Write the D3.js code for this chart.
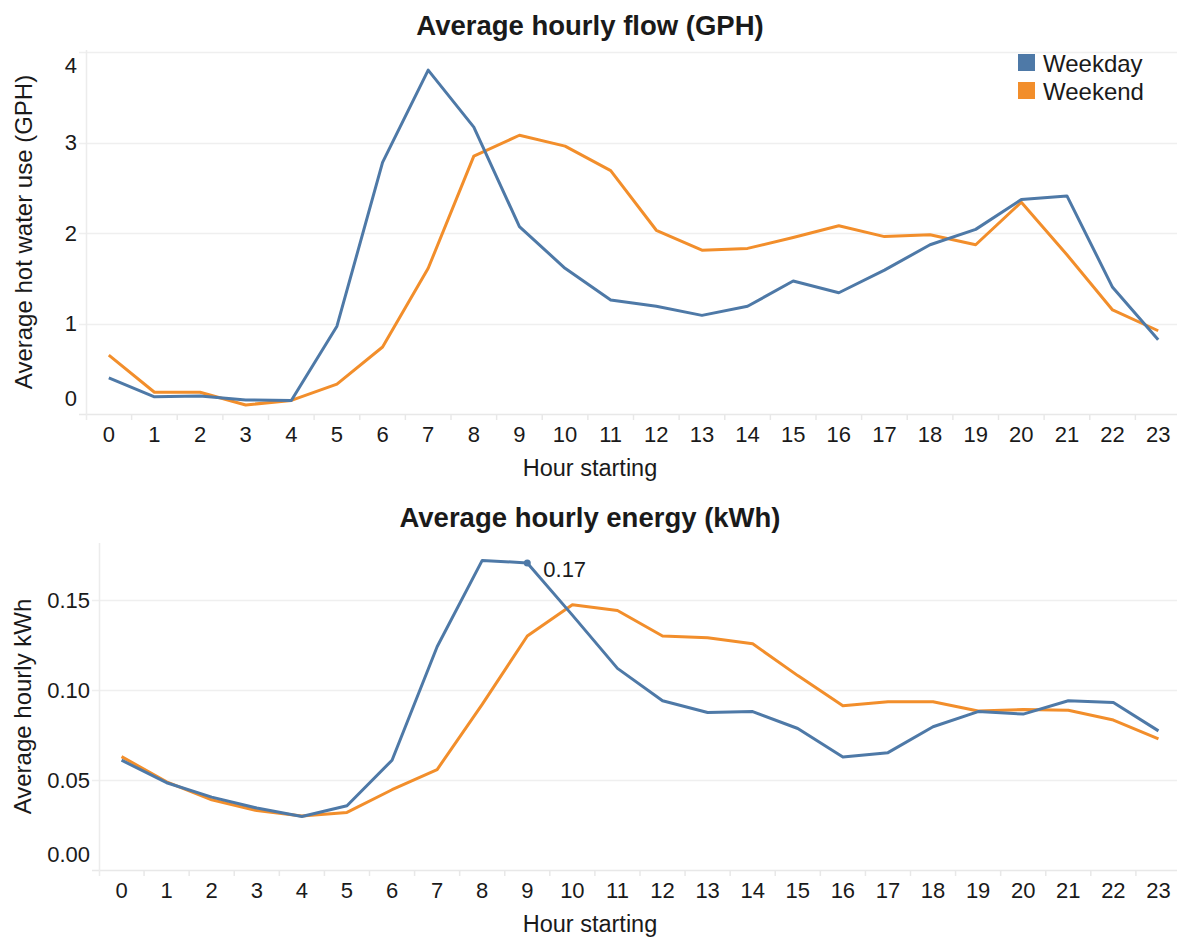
<!DOCTYPE html>
<html><head><meta charset="utf-8">
<script src="https://cdn.jsdelivr.net/npm/d3@7"></script>
<style>
html,body{margin:0;padding:0;background:#fff;}
svg{display:block;font-family:"Liberation Sans",Arial,sans-serif;}
</style></head>
<body>
<svg id="chart" width="1177" height="941"></svg>
<script>
const hours = [0,1,2,3,4,5,6,7,8,9,10,11,12,13,14,15,16,17,18,19,20,21,22,23];
const seriesNames = ["Weekday", "Weekend"];
const seriesColors = ["#4E79A7", "#F28E2B"];

const flowWeekday = [0.40,0.19,0.20,0.155,0.15,0.97,2.78,3.80,3.17,2.07,1.61,1.26,1.19,1.09,1.19,1.47,1.34,1.59,1.87,2.04,2.37,2.41,1.40,0.82];
const flowWeekend = [0.65,0.24,0.24,0.10,0.15,0.33,0.74,1.61,2.85,3.08,2.96,2.69,2.03,1.81,1.83,1.95,2.08,1.96,1.98,1.87,2.34,1.76,1.15,0.92];
const flowTicks = [0,1,2,3,4];

const energyWeekday = [0.061,0.0485,0.0405,0.0344,0.0297,0.0357,0.061,0.124,0.172,0.1706,0.1416,0.112,0.094,0.0875,0.088,0.0786,0.0628,0.0652,0.0796,0.088,0.0866,0.094,0.093,0.0773];
const energyWeekend = [0.063,0.049,0.039,0.033,0.030,0.032,0.0446,0.0558,0.092,0.130,0.1474,0.1442,0.130,0.129,0.1257,0.108,0.0913,0.0935,0.0935,0.0883,0.0892,0.0887,0.0833,0.0729];
const energyTicks = [0,0.05,0.10,0.15];
const annotatedHour = 9;

const svg = d3.select("#chart");
const textColor = "#1a1a1a";

function drawPanel(cfg) {
  const g = svg.append("g");
  const x = d3.scaleBand().domain(hours).range([cfg.left, cfg.right]);
  const y = d3.scaleLinear().domain(cfg.yDomain).range([cfg.bottom, cfg.top0]);
  const cx = h => x(h) + x.bandwidth() / 2;

  g.append("text").attr("x", 590).attr("y", cfg.titleY)
    .attr("text-anchor", "middle").attr("dominant-baseline", "central")
    .attr("font-size", 27.5).attr("font-weight", "bold").attr("fill", textColor)
    .text(cfg.title);

  g.selectAll(".grid").data(cfg.ticks.filter(t => t > 0)).enter().append("line")
    .attr("x1", cfg.left - 7).attr("x2", cfg.right)
    .attr("y1", d => Math.round(y(d)) + 0.5).attr("y2", d => Math.round(y(d)) + 0.5)
    .attr("stroke", "#efefef").attr("stroke-width", 1.5);

  g.append("line").attr("x1", cfg.left - 7).attr("x2", cfg.right)
    .attr("y1", cfg.bottom + 0.5).attr("y2", cfg.bottom + 0.5)
    .attr("stroke", "#e8e8e8").attr("stroke-width", 1.5);
  g.append("line").attr("x1", cfg.left + 0.5).attr("x2", cfg.left + 0.5)
    .attr("y1", cfg.paneTop).attr("y2", cfg.bottom + 6)
    .attr("stroke", "#ececec").attr("stroke-width", 1.5);

  g.selectAll(".sep").data(hours.slice(1)).enter().append("line")
    .attr("x1", d => x(d)).attr("x2", d => x(d))
    .attr("y1", cfg.bottom).attr("y2", cfg.bottom + 6)
    .attr("stroke", "#e8e8e8").attr("stroke-width", 1.5);

  g.selectAll(".xl").data(hours).enter().append("text")
    .attr("x", d => cx(d)).attr("y", cfg.bottom + 20)
    .attr("text-anchor", "middle").attr("dominant-baseline", "central")
    .attr("font-size", 22).attr("fill", textColor).text(d => d);

  g.append("text").attr("x", 590).attr("y", cfg.bottom + 54)
    .attr("text-anchor", "middle").attr("dominant-baseline", "central")
    .attr("font-size", 23.5).attr("fill", textColor).text("Hour starting");

  g.selectAll(".yl").data(cfg.ticks).enter().append("text")
    .attr("x", cfg.left - 9)
    .attr("y", d => Math.min(cfg.bottom - 16, Math.max(cfg.paneTop + 15, y(d))))
    .attr("text-anchor", "end").attr("dominant-baseline", "central")
    .attr("font-size", 22).attr("fill", textColor).text(cfg.tickFmt);

  const midY = (cfg.paneTop + cfg.bottom) / 2;
  g.append("text").attr("transform", `translate(${cfg.yTitleX},${midY}) rotate(-90)`)
    .attr("text-anchor", "middle").attr("dominant-baseline", "central")
    .attr("font-size", 24).attr("fill", textColor).text(cfg.yTitle);

  const line = d3.line().x((d, i) => cx(hours[i])).y(d => y(d));
  [[cfg.s1, 1], [cfg.s0, 0]].forEach(([s, idx]) => {
    g.append("path").datum(s).attr("d", line)
      .attr("fill", "none").attr("stroke", seriesColors[idx])
      .attr("stroke-width", 3).attr("stroke-linejoin", "round");
  });
  return {g, x, y, cx};
}

const topPanel = drawPanel({
  title: "Average hourly flow (GPH)", titleY: 25,
  left: 86, right: 1181, paneTop: 50, top0: 52, bottom: 414,
  yDomain: [0, 4], ticks: flowTicks, tickFmt: d => d3.format("d")(d),
  yTitle: "Average hot water use (GPH)", yTitleX: 23,
  s0: flowWeekday, s1: flowWeekend
});

const leg = svg.append("g");
seriesNames.forEach((n, i) => {
  leg.append("rect").attr("x", 1018).attr("y", 54 + i * 28).attr("width", 17).attr("height", 17)
    .attr("fill", seriesColors[i]);
  leg.append("text").attr("x", 1043).attr("y", 63 + i * 28)
    .attr("dominant-baseline", "central").attr("font-size", 24).attr("fill", textColor).text(n);
});

const botPanel = drawPanel({
  title: "Average hourly energy (kWh)", titleY: 517,
  left: 99, right: 1181, paneTop: 543, top0: 600, bottom: 870,
  yDomain: [0, 0.15], ticks: energyTicks, tickFmt: d => d3.format(".2f")(d),
  yTitle: "Average hourly kWh", yTitleX: 22,
  s0: energyWeekday, s1: energyWeekend
});

const ax = botPanel.cx(annotatedHour), ay = botPanel.y(energyWeekday[annotatedHour]);
botPanel.g.append("circle").attr("cx", ax).attr("cy", ay).attr("r", 3.5).attr("fill", seriesColors[0]);
botPanel.g.append("text").attr("x", ax + 16).attr("y", ay + 7)
  .attr("dominant-baseline", "central").attr("font-size", 22).attr("fill", textColor)
  .text(d3.format(".2f")(energyWeekday[annotatedHour]));
</script>
</body></html>
